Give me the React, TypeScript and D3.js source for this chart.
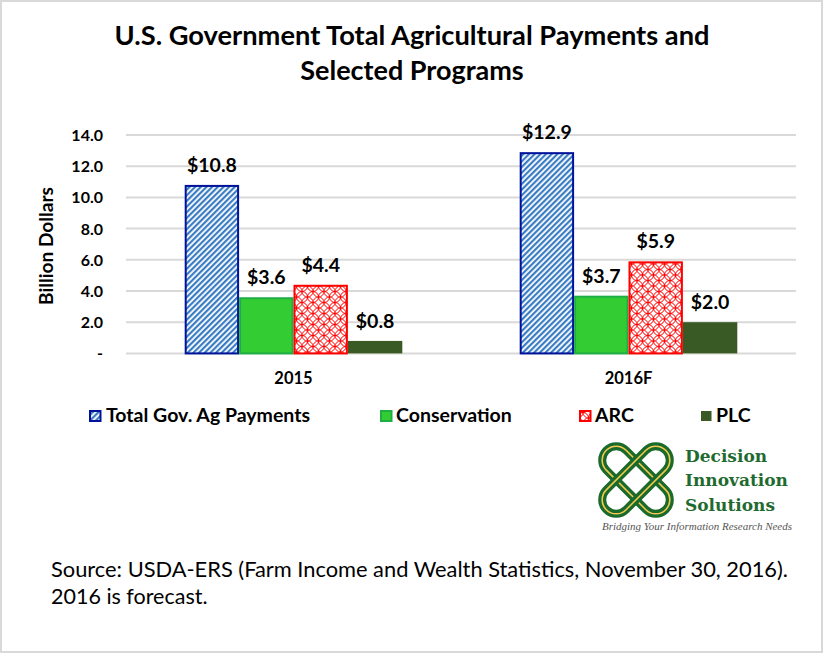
import React from "react";
import * as d3 from "d3";

const categories = ["2015", "2016F"];
const series = ["Total Gov. Ag Payments", "Conservation", "ARC", "PLC"];
const valuesTotal = [10.8, 12.9];
const valuesConservation = [3.6, 3.7];
const valuesARC = [4.4, 5.9];
const valuesPLC = [0.8, 2.0];
const yTicks = [0, 2, 4, 6, 8, 10, 12, 14];

const W = 823;
const H = 653;
const FONT = "Lato, 'Open Sans', sans-serif";
const SERIF = "'DejaVu Serif', 'Liberation Serif', serif";

const seriesValues = [valuesTotal, valuesConservation, valuesARC, valuesPLC];
const seriesFill = ["url(#blueStripes)", "#33cc33", "url(#redLattice)", "#3a5a25"];
const seriesStroke = ["#00129a", "#1fae44", "#ff0000", "#3a5a25"];
const seriesStrokeW = [2, 2, 2, 0];

export default function App() {
  const x0 = d3.scaleBand<string>().domain(categories).range([126, 796]).paddingInner(0).paddingOuter(0);
  const x1 = d3
    .scaleBand<string>()
    .domain(series)
    .range([0, x0.bandwidth()])
    .paddingInner(0)
    .paddingOuter(1.079);
  const y = d3.scaleLinear().domain([0, 14]).range([353.4, 135]);

  const legendPos = [
    { sx: 89, tx: 106 },
    { sx: 380, tx: 396 },
    { sx: 579, tx: 595 },
    { sx: 700, tx: 716 },
  ];

  return (
    <svg width={W} height={H} style={{ display: "block", position: "absolute", left: 0, top: 0 }}>
      <defs>
        <pattern id="blueStripes" patternUnits="userSpaceOnUse" width={4} height={4} patternTransform="rotate(45)">
          <rect x={0} y={0} width={4} height={4} fill="#ffffff" />
          <rect x={0} y={0} width={2.2} height={4} fill="#3a7cc2" />
        </pattern>
        <pattern id="redLattice" patternUnits="userSpaceOnUse" width={11} height={11} x={0} y={0}>
          <rect x={0} y={0} width={11} height={11} fill="#ffffff" />
          <circle cx={5.5} cy={5.5} r={5.5} fill="none" stroke="#ff0000" strokeWidth={1} />
          <circle cx={0} cy={0} r={5.5} fill="none" stroke="#ff0000" strokeWidth={1} />
          <circle cx={11} cy={0} r={5.5} fill="none" stroke="#ff0000" strokeWidth={1} />
          <circle cx={0} cy={11} r={5.5} fill="none" stroke="#ff0000" strokeWidth={1} />
          <circle cx={11} cy={11} r={5.5} fill="none" stroke="#ff0000" strokeWidth={1} />
        </pattern>
      </defs>
      <rect x={0} y={0} width={W} height={H} fill="#ffffff" />
      <rect x={1} y={1} width={W - 2} height={H - 2} fill="none" stroke="#d9d9d9" strokeWidth={2} />

      {/* Title */}
      <text x={412} y={45} textAnchor="middle" fontFamily={FONT} fontWeight="bold" fontSize={27} fill="#000"
        textLength={595} lengthAdjust="spacingAndGlyphs">
        U.S. Government Total Agricultural Payments and
      </text>
      <text x={412} y={80} textAnchor="middle" fontFamily={FONT} fontWeight="bold" fontSize={27} fill="#000">
        Selected Programs
      </text>

      {/* Gridlines */}
      {yTicks.map((t) => (
        <g key={t}>
          <line x1={126} x2={796} y1={y(t)} y2={y(t)} stroke="#d9d9d9" strokeWidth={2} />
          <text x={103} y={y(t) + 6} textAnchor="end" fontFamily={FONT} fontWeight="bold" fontSize={16} fill="#000">
            {t === 0 ? "-" : t.toFixed(1)}
          </text>
        </g>
      ))}

      {/* Y axis title */}
      <text
        transform={`translate(47,246) rotate(-90)`}
        textAnchor="middle"
        fontFamily={FONT}
        fontWeight="bold"
        fontSize={18}
        fill="#000"
        dy="0.35em"
        textLength={118}
        lengthAdjust="spacingAndGlyphs"
      >
        Billion Dollars
      </text>

      {/* Bars */}
      {categories.map((c, ci) => (
        <g key={c} transform={`translate(${x0(c)},0)`}>
          {series.map((s, si) => {
            const v = seriesValues[si][ci];
            const bx = x1(s) as number;
            const bw = x1.bandwidth();
            const sw = seriesStrokeW[si];
            return (
              <g key={s}>
                <rect
                  x={bx + sw / 2}
                  y={y(v) + sw / 2}
                  width={bw - sw}
                  height={y(0) - y(v) - sw / 2}
                  fill={seriesFill[si]}
                  stroke={sw > 0 ? seriesStroke[si] : "none"}
                  strokeWidth={sw}
                />
                <text
                  x={bx + bw / 2}
                  y={y(v) - 13}
                  textAnchor="middle"
                  fontFamily={FONT}
                  fontWeight="bold"
                  fontSize={19.5}
                  fill="#000"
                >
                  {"$" + v.toFixed(1)}
                </text>
              </g>
            );
          })}
          <text
            x={x0.bandwidth() / 2}
            y={384}
            textAnchor="middle"
            fontFamily={FONT}
            fontWeight="bold"
            fontSize={16.5}
            fill="#000"
          >
            {c}
          </text>
        </g>
      ))}

      {/* Legend */}
      {series.map((s, si) => (
        <g key={s}>
          <rect
            x={legendPos[si].sx + 1}
            y={411}
            width={10.5}
            height={10}
            fill={seriesFill[si]}
            stroke={si === 3 ? "none" : seriesStroke[si]}
            strokeWidth={2}
          />
          <text x={legendPos[si].tx} y={422} fontFamily={FONT} fontWeight="bold" fontSize={19.5} fill="#000">
            {s}
          </text>
        </g>
      ))}

      {/* Logo */}
      <g transform="translate(636,480)">
        <g transform="rotate(45)">
          <rect x={-42} y={-14} width={84} height={28} rx={14} fill="none" stroke="#1a6a2c" strokeWidth={8} />
          <rect x={-42} y={-14} width={84} height={28} rx={14} fill="none" stroke="#f2c94c" strokeWidth={1.6} />
        </g>
        <g transform="rotate(-45)">
          <rect x={-42} y={-14} width={84} height={28} rx={14} fill="none" stroke="#1a6a2c" strokeWidth={8} />
          <rect x={-42} y={-14} width={84} height={28} rx={14} fill="none" stroke="#f2c94c" strokeWidth={1.6} />
        </g>
      </g>
      <text x={685} y={462} fontFamily={SERIF} fontWeight="bold" fontSize={17} fill="#1f6b2f">
        Decision
      </text>
      <text x={685} y={486} fontFamily={SERIF} fontWeight="bold" fontSize={17} fill="#1f6b2f">
        Innovation
      </text>
      <text x={685} y={511} fontFamily={SERIF} fontWeight="bold" fontSize={17} fill="#1f6b2f">
        Solutions
      </text>
      <text x={602} y={530} fontFamily="'Liberation Serif', serif" fontStyle="italic" fontSize={9.5} fill="#555"
        textLength={190} lengthAdjust="spacingAndGlyphs">
        Bridging Your Information Research Needs
      </text>

      {/* Source */}
      <text x={51} y={577} fontFamily={FONT} fontSize={21.5} fill="#000" textLength={737} lengthAdjust="spacingAndGlyphs">
        Source: USDA-ERS (Farm Income and Wealth Statistics, November 30, 2016).
      </text>
      <text x={51} y={604} fontFamily={FONT} fontSize={21.5} fill="#000">
        2016 is forecast.
      </text>
    </svg>
  );
}
